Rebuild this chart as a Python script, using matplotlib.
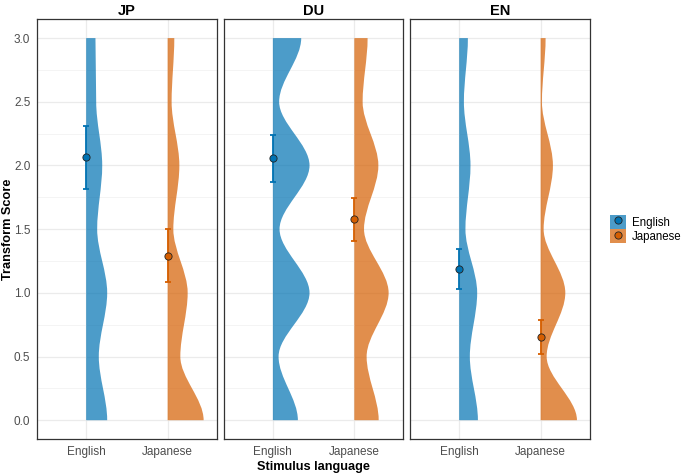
import matplotlib.pyplot as plt
from matplotlib.path import Path
from matplotlib.patches import PathPatch, Patch
from matplotlib.lines import Line2D

plt.rcParams['font.family'] = ['Liberation Sans', 'DejaVu Sans']

panels = ['JP', 'DU', 'EN']
languages = ['English', 'Japanese']
score_levels = [0.0, 0.5, 1.0, 1.5, 2.0, 2.5, 3.0]

# half-violin widths (x units) at each score level, one row per panel
density_english = [
    [0.258, 0.155, 0.258, 0.135, 0.197, 0.123, 0.114],
    [0.307, 0.070, 0.450, 0.082, 0.450, 0.077, 0.348],
    [0.230, 0.131, 0.221, 0.077, 0.139, 0.058, 0.107],
]
density_japanese = [
    [0.442, 0.156, 0.246, 0.070, 0.144, 0.049, 0.082],
    [0.299, 0.151, 0.421, 0.119, 0.295, 0.102, 0.163],
    [0.446, 0.074, 0.303, 0.037, 0.151, 0.016, 0.061],
]

mean_english = [2.064, 2.059, 1.191]
low_english = [1.816, 1.873, 1.034]
high_english = [2.310, 2.239, 1.348]
mean_japanese = [1.291, 1.578, 0.653]
low_japanese = [1.082, 1.408, 0.523]
high_japanese = [1.505, 1.748, 0.784]

colors = ['#0072B2', '#D55E00']


def half_violin(ax, x0, widths, color):
    verts = [(x0, score_levels[0]), (x0 + widths[0], score_levels[0])]
    codes = [Path.MOVETO, Path.LINETO]
    for i in range(len(score_levels) - 1):
        y0, y1 = score_levels[i], score_levels[i + 1]
        dy = y1 - y0
        verts += [(x0 + widths[i], y0 + dy / 3),
                  (x0 + widths[i + 1], y1 - dy / 3),
                  (x0 + widths[i + 1], y1)]
        codes += [Path.CURVE4] * 3
    verts += [(x0, score_levels[-1]), (x0, score_levels[0])]
    codes += [Path.LINETO, Path.CLOSEPOLY]
    ax.add_patch(PathPatch(Path(verts, codes), facecolor=color, alpha=0.7,
                           edgecolor='none', zorder=2))


fig = plt.figure(figsize=(6.85, 4.73), dpi=100)
lefts = [37.3, 224.0, 410.3]
for k, name in enumerate(panels):
    ax = fig.add_axes([lefts[k] / 685, (473 - 439.3) / 473, 179.2 / 685, 420.3 / 473])
    dens = [density_english[k], density_japanese[k]]
    means = [mean_english[k], mean_japanese[k]]
    lows = [low_english[k], low_japanese[k]]
    highs = [high_english[k], high_japanese[k]]
    for j in range(2):
        half_violin(ax, j + 1, dens[j], colors[j])
        ax.errorbar([j + 1], [means[j]],
                    yerr=[[means[j] - lows[j]], [highs[j] - means[j]]],
                    fmt='none', ecolor=colors[j], elinewidth=1.3,
                    capsize=2.5, capthick=1.3, zorder=3)
        ax.plot([j + 1], [means[j]], 'o', ms=5.2, mfc=colors[j], mec='#222222',
                mew=0.6, zorder=4)
    ax.set_xlim(0.4, 2.6)
    ax.set_ylim(-0.15, 3.15)
    ax.set_xticks([1, 2])
    ax.set_xticklabels(languages)
    ax.set_yticks(score_levels)
    ax.set_yticks([0.25, 0.75, 1.25, 1.75, 2.25, 2.75], minor=True)
    ax.grid(which='major', color='#ebebeb', lw=0.9, zorder=0)
    ax.grid(which='minor', axis='y', color='#f3f3f3', lw=0.6, zorder=0)
    ax.set_axisbelow(True)
    ax.tick_params(which='both', length=0, labelsize=8.5, labelcolor='#4d4d4d', pad=5)
    if k == 0:
        ax.set_yticklabels([f'{v:.1f}' for v in score_levels])
        ax.set_ylabel('Transform Score', fontsize=9.2, fontweight='bold')
        ax.yaxis.set_label_coords(-0.128, 0.5)
    else:
        ax.set_yticklabels([])
    if k == 1:
        ax.set_xlabel('Stimulus language', fontsize=9.2, fontweight='bold', labelpad=2)
    for s in ax.spines.values():
        s.set_color('#333333')
        s.set_linewidth(0.9)
    ax.set_title(name, fontsize=10.5, fontweight='bold', pad=3)

handles = [(Patch(facecolor=c, alpha=0.7, edgecolor='none'),
            Line2D([], [], marker='o', ls='none', ms=5.2, mfc=c, mec='#222222', mew=0.6))
           for c in colors]
fig.legend(handles, languages, loc='center left', bbox_to_anchor=(604 / 685, 1 - 229 / 473),
           frameon=False, fontsize=8.3, handlelength=1.4, handleheight=1.5,
           handletextpad=0.5, labelspacing=0.02, borderpad=0)

fig.savefig('out.png', dpi=100)
